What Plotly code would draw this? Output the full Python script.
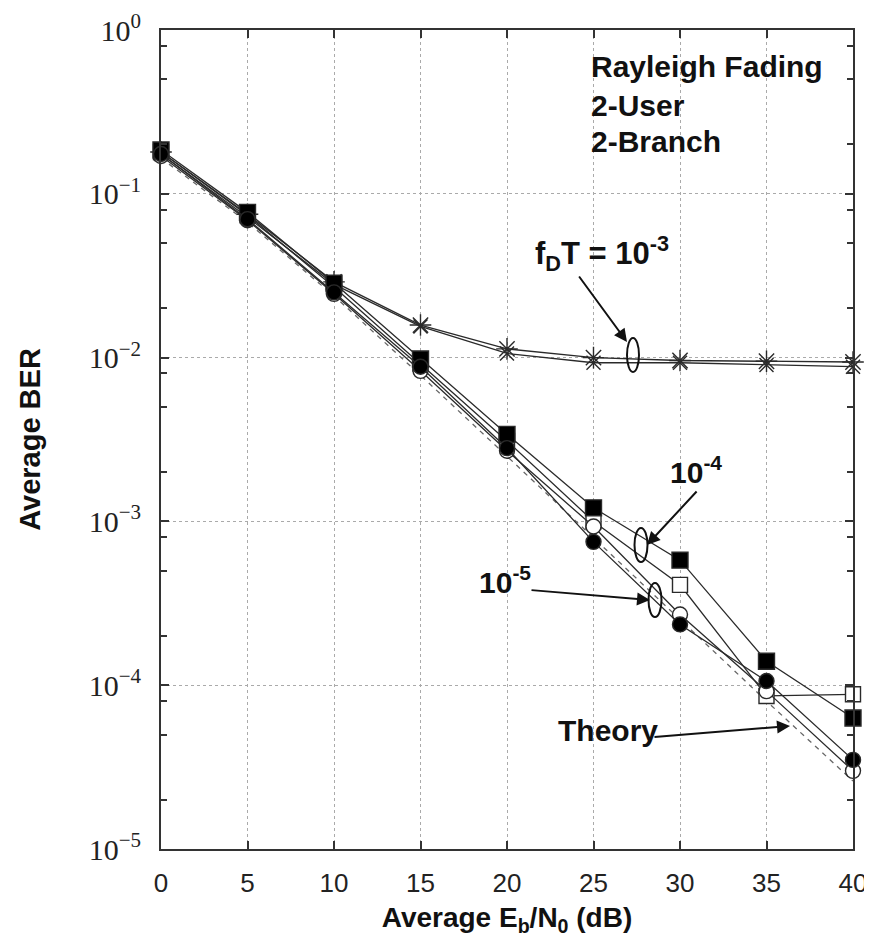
import plotly.graph_objects as go

# ---- data ----
ebn0_db = [0, 5, 10, 15, 20, 25, 30, 35, 40]
ber_fd3_a = [0.180, 0.075, 0.029, 0.0158, 0.0113, 0.0100, 0.0096, 0.0095, 0.0094]
ber_fd3_b = [0.175, 0.072, 0.028, 0.0155, 0.0106, 0.0093, 0.0093, 0.0090, 0.0088]
ber_fd4_a = [0.185, 0.077, 0.0285, 0.0098, 0.0034, 0.00121, 0.00058, 1.40e-4, 6.3e-5]
ber_fd4_b = [0.180, 0.074, 0.0270, 0.0092, 0.0031, 0.00100, 0.00041, 8.6e-5, 8.8e-5]
ber_fd5_a = [0.175, 0.070, 0.0250, 0.0088, 0.0028, 0.00075, 0.000235, 1.06e-4, 3.5e-5]
ber_fd5_b = [0.170, 0.069, 0.0245, 0.0083, 0.0027, 0.00093, 0.00027, 9.2e-5, 3.0e-5]
ber_theory = [0.165, 0.067, 0.0238, 0.0078, 0.0025, 0.00079, 0.00025, 8.0e-5, 2.6e-5]

x_ticks = [0, 5, 10, 15, 20, 25, 30, 35, 40]
y_ticks = [1e-5, 1e-4, 1e-3, 1e-2, 1e-1, 1]
y_ticktext = ["10<sup>\u22125</sup>", "10<sup>\u22124</sup>", "10<sup>\u22123</sup>",
              "10<sup>\u22122</sup>", "10<sup>\u22121</sup>", "10<sup>0</sup>"]
y_minor = [m * 10.0 ** e for e in range(-5, 0) for m in (2, 5, 8)]

OFF = 8  # page body margin
W, H = 872 - OFF, 947 - OFF
L, T = 161 - OFF, 30 - OFF
R = W - (853 - OFF)
B = H - (849 - OFF)
PW, PH = W - L - R, H - T - B


def px(x, y):
    return (x - OFF - L) / PW, (H - B - (y - OFF)) / PH


LINE = "#2a2a2a"
fig = go.Figure()

fig.add_trace(go.Scatter(x=ebn0_db, y=ber_theory, mode="lines",
                         line=dict(color="#666", width=1.3, dash="5px,5px"),
                         showlegend=False))


def add(y, symbol, fill, size, lw=1.3):
    fig.add_trace(go.Scatter(
        x=ebn0_db, y=y, mode="lines+markers", cliponaxis=False,
        line=dict(color=LINE, width=lw),
        marker=dict(symbol=symbol, size=size, color=fill,
                    line=dict(color=LINE, width=1.4)),
        showlegend=False))


add(ber_fd3_a, "asterisk-open", LINE, 18)
add(ber_fd3_b, "x-thin-open", LINE, 14)
add(ber_fd4_b, "square", "white", 15)
add(ber_fd5_b, "circle", "white", 15)
add(ber_fd4_a, "square", "black", 16)
add(ber_fd5_a, "circle", "black", 15)

BOLD = "Liberation Sans"
annos = []


def text(s, x, y, size=30, xanchor="center"):
    xp, yp = px(x, y)
    annos.append(dict(text="<b>" + s + "</b>", x=xp, y=yp, xref="paper", yref="paper",
                      xanchor=xanchor, yanchor="middle", showarrow=False,
                      font=dict(family=BOLD, size=size, color="#111")))


def arrow(tail, head):
    hx, hy = px(*head)
    annos.append(dict(text="", x=hx, y=hy, xref="paper", yref="paper",
                      ax=tail[0] - head[0], ay=tail[1] - head[1],
                      showarrow=True, arrowhead=2, arrowsize=1.3, arrowwidth=2,
                      arrowcolor="#111"))


text("Rayleigh Fading", 589, 67, xanchor="left")
text("2-User", 589, 105, xanchor="left")
text("2-Branch", 589, 142, xanchor="left")
text("f<sub>D</sub>T = 10<sup>-3</sup>", 602, 253, size=31)
text("10<sup>-4</sup>", 696, 470, size=30)
text("10<sup>-5</sup>", 505, 580, size=30)
text("Theory", 608, 730, size=30)

arrow((578, 275), (627, 342))
arrow((698, 490), (647, 545))
arrow((530, 590), (650, 600))
arrow((653, 737), (790, 726))

shapes = []
for cx, cy, w, h in [(633, 355, 12, 34), (641, 545, 13, 34), (655, 600, 13, 34)]:
    x0, y0 = px(cx - w / 2, cy + h / 2)
    x1, y1 = px(cx + w / 2, cy - h / 2)
    shapes.append(dict(type="circle", xref="paper", yref="paper", x0=x0, x1=x1,
                       y0=y0, y1=y1, line=dict(color="#111", width=2)))

fig.update_layout(
    width=W, height=H, margin=dict(l=L, r=R, t=T, b=B, pad=0, autoexpand=False),
    paper_bgcolor="white", plot_bgcolor="white",
    annotations=annos, shapes=shapes,
    xaxis=dict(range=[0, 40], tickvals=x_ticks, ticktext=[str(v) for v in x_ticks],
               automargin=False,
               ticks="inside", ticklen=8, tickwidth=2, tickcolor="#333",
               showline=True, linewidth=2, linecolor="#333", mirror="ticks",
               showgrid=True, gridcolor="#aaa", griddash="dot", gridwidth=1,
               zeroline=False, ticklabelstandoff=10,
               tickfont=dict(family="Liberation Sans", size=26, color="#222"),
               title=dict(text="<b>Average E<sub>b</sub>/N<sub>0</sub> (dB)</b>",
                          font=dict(family=BOLD, size=28, color="#111"), standoff=10)),
    yaxis=dict(type="log", range=[-5, 0], tickvals=y_ticks, ticktext=y_ticktext,
               automargin=False,
               ticks="inside", ticklen=8, tickwidth=2, tickcolor="#333",
               minor=dict(tickvals=y_minor, ticks="inside", ticklen=6, tickwidth=1.5,
                          tickcolor="#333", showgrid=False),
               showline=True, linewidth=2, linecolor="#333", mirror="ticks",
               showgrid=True, gridcolor="#aaa", griddash="dot", gridwidth=1,
               zeroline=False, ticklabelstandoff=12,
               tickfont=dict(family="Liberation Serif", size=30, color="#222"),
               title=dict(text="<b>Average BER</b>",
                          font=dict(family=BOLD, size=29, color="#111"), standoff=40)),
)

fig.write_html("out.html")
